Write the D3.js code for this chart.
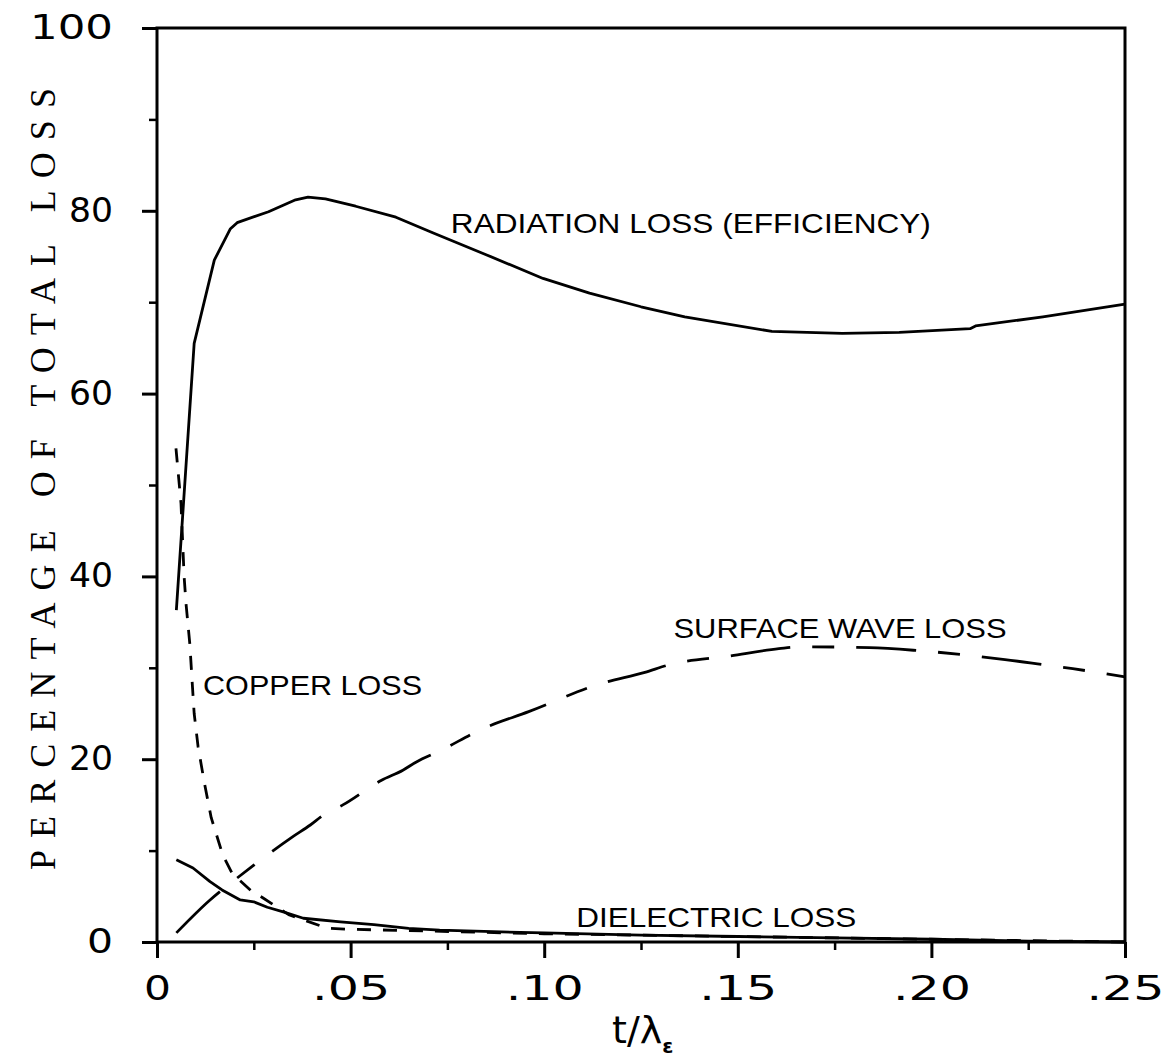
<!DOCTYPE html>
<html>
<head>
<meta charset="utf-8">
<script src="https://cdn.jsdelivr.net/npm/d3@7"></script>
<style>
  html, body { margin: 0; padding: 0; background: #fff; }
  svg { display: block; }
</style>
</head>
<body>
<div id="chart"></div>
<script>
// values (t / lambda_e vs percentage of total loss)
const radiationT = [0.005, 0.0096, 0.0148, 0.0189, 0.0207, 0.0288, 0.0358, 0.039, 0.0435, 0.0513, 0.0617, 0.0712, 0.085, 0.0997, 0.1117, 0.125, 0.1363, 0.1588, 0.177, 0.1917, 0.21, 0.2114, 0.2288, 0.25]
const radiationY = [36.3, 65.5, 74.6, 78.0, 78.7, 79.9, 81.2, 81.5, 81.3, 80.5, 79.3, 77.6, 75.2, 72.6, 71.0, 69.5, 68.4, 66.8, 66.6, 66.7, 67.1, 67.4, 68.4, 69.8]

const surfaceT = [0.005, 0.0137, 0.0168, 0.0207, 0.025, 0.035, 0.0396, 0.043, 0.048, 0.058, 0.0635, 0.067, 0.073, 0.0845, 0.096, 0.1148, 0.126, 0.132, 0.148, 0.1606, 0.166, 0.184, 0.196, 0.219, 0.2295, 0.2365, 0.25]
const surfaceY = [1.0, 4.6, 5.7, 7.0, 8.4, 11.5, 12.8, 13.9, 15.0, 17.7, 18.8, 19.7, 20.9, 23.4, 25.2, 28.3, 29.5, 30.3, 31.3, 32.1, 32.3, 32.2, 31.9, 30.9, 30.3, 29.9, 29.0]

const copperT = [0.0049, 0.0062, 0.007, 0.0075, 0.0085, 0.009, 0.0096, 0.0106, 0.0122, 0.014, 0.017, 0.0194, 0.0246, 0.0271, 0.034, 0.044, 0.049, 0.07, 0.10, 0.15, 0.20, 0.25]
const copperY = [54, 48, 40, 37, 32.5, 29, 25, 21.4, 17.5, 13.6, 9.5, 7.5, 5.5, 4.9, 3.0, 1.5, 1.4, 1.2, 0.9, 0.6, 0.3, 0.0]

const dielectricT = [0.005, 0.0093, 0.0137, 0.0168, 0.0215, 0.025, 0.0285, 0.0326, 0.0378, 0.0474, 0.056, 0.065, 0.073, 0.089, 0.10, 0.125, 0.15, 0.175, 0.20, 0.225, 0.25]
const dielectricY = [9.0, 8.1, 6.6, 5.7, 4.6, 4.4, 3.8, 3.3, 2.6, 2.2, 1.9, 1.5, 1.3, 1.1, 1.0, 0.75, 0.6, 0.45, 0.3, 0.1, 0.0]

const xMajorTicks = [0, 0.05, 0.10, 0.15, 0.20, 0.25]
const xTickLabels = ['0', '.05', '.10', '.15', '.20', '.25']
const xMinorTicks = [0.025, 0.075, 0.125, 0.175, 0.225]
const yMajorTicks = [0, 20, 40, 60, 80, 100]
const yMinorTicks = [10, 30, 50, 70, 90]

const labelText = ['RADIATION LOSS (EFFICIENCY)', 'SURFACE WAVE LOSS', 'COPPER LOSS', 'DIELECTRIC LOSS']
const labelT = [0.0759, 0.1334, 0.0119, 0.1083]
const labelY = [77.6, 33.3, 27.0, 1.6]

const width = 1167
const height = 1063
const margin = { top: 28, right: 42, bottom: 121, left: 157 }
const innerW = width - margin.left - margin.right
const innerH = height - margin.top - margin.bottom

const svg = d3.select('#chart').append('svg')
  .attr('width', width)
  .attr('height', height)

const g = svg.append('g')
  .attr('transform', `translate(${margin.left},${margin.top})`)

const x = d3.scaleLinear().domain([0, 0.25]).range([0, innerW])
const y = d3.scaleLinear().domain([0, 100]).range([innerH, 0])

// frame
g.append('rect')
  .attr('x', 0).attr('y', 0)
  .attr('width', innerW).attr('height', innerH)
  .attr('fill', 'none')
  .attr('stroke', '#000')
  .attr('stroke-width', 3)

// y axis: majors with labels, minors without
const yAxis = g.append('g')
  .call(d3.axisLeft(y).tickValues(yMajorTicks).tickSize(15).tickPadding(29).tickFormat(d3.format('d')))
yAxis.select('.domain').remove()
yAxis.selectAll('line').attr('stroke-width', 3)
yAxis.selectAll('text')
  .attr('font-family', 'DejaVu Sans, sans-serif')
  .attr('font-size', 33)
  .attr('fill', '#000')
  .attr('textLength', d => d === 100 ? 83 : d === 0 ? 26 : 44)
  .attr('lengthAdjust', 'spacingAndGlyphs')

const yMinor = g.append('g')
  .call(d3.axisLeft(y).tickValues(yMinorTicks).tickSize(8).tickFormat(''))
yMinor.select('.domain').remove()
yMinor.selectAll('line').attr('stroke-width', 2.5)

// x axis
const xAxis = g.append('g')
  .attr('transform', `translate(0,${innerH})`)
  .call(d3.axisBottom(x).tickValues(xMajorTicks).tickSize(16).tickFormat((d, i) => xTickLabels[i]))
xAxis.select('.domain').remove()
xAxis.selectAll('line').attr('stroke-width', 3)
xAxis.selectAll('text')
  .attr('y', 58)
  .attr('dy', 0)
  .attr('font-family', 'DejaVu Sans, sans-serif')
  .attr('font-size', 33)
  .attr('fill', '#000')
  .attr('textLength', (d, i) => xTickLabels[i].length === 1 ? 27 : 78)
  .attr('lengthAdjust', 'spacingAndGlyphs')

const xMinor = g.append('g')
  .attr('transform', `translate(0,${innerH})`)
  .call(d3.axisBottom(x).tickValues(xMinorTicks).tickSize(8).tickFormat(''))
xMinor.select('.domain').remove()
xMinor.selectAll('line').attr('stroke-width', 2.5)

// curves
const line = d3.line()
  .x(d => x(d[0]))
  .y(d => y(d[1]))

const series = [
  { t: radiationT, v: radiationY, dash: null },
  { t: surfaceT, v: surfaceY, dash: '60,22,22,22', curve: d3.curveMonotoneX },
  { t: copperT, v: copperY, dash: '14,12' },
  { t: dielectricT, v: dielectricY, dash: null },
]

series.forEach(s => {
  const pts = s.t.map((t, i) => [t, s.v[i]])
  g.append('path')
    .datum(pts)
    .attr('d', line.curve(s.curve || d3.curveLinear))
    .attr('fill', 'none')
    .attr('stroke', '#000')
    .attr('stroke-width', 2.8)
    .attr('stroke-linejoin', 'round')
    .attr('stroke-dasharray', s.dash)
})

// curve labels
const labelLen = [480, 333, 219, 280]
labelText.forEach((txt, i) => {
  g.append('text')
    .attr('x', x(labelT[i]))
    .attr('y', y(labelY[i]))
    .attr('font-family', 'Liberation Sans, Arial, sans-serif')
    .attr('font-size', 28)
    .attr('fill', '#000')
    .attr('textLength', labelLen[i])
    .attr('lengthAdjust', 'spacingAndGlyphs')
    .text(txt)
})

// axis titles
svg.append('text')
  .attr('transform', 'translate(55,479) rotate(-90)')
  .attr('text-anchor', 'middle')
  .attr('font-family', 'Liberation Serif, serif')
  .attr('font-size', 36)
  .attr('fill', '#000')
  .attr('textLength', 782)
  .attr('lengthAdjust', 'spacing')
  .text('PERCENTAGE OF TOTAL LOSS')

const xt = svg.append('text')
  .attr('x', 612)
  .attr('y', 1043)
  .attr('font-family', 'DejaVu Sans, sans-serif')
  .attr('font-size', 38)
  .attr('fill', '#000')
xt.append('tspan').text('t/λ')
xt.append('tspan')
  .attr('dy', 10)
  .attr('font-size', 20)
  .attr('font-weight', 'bold')
  .text('ε')
</script>
</body>
</html>
